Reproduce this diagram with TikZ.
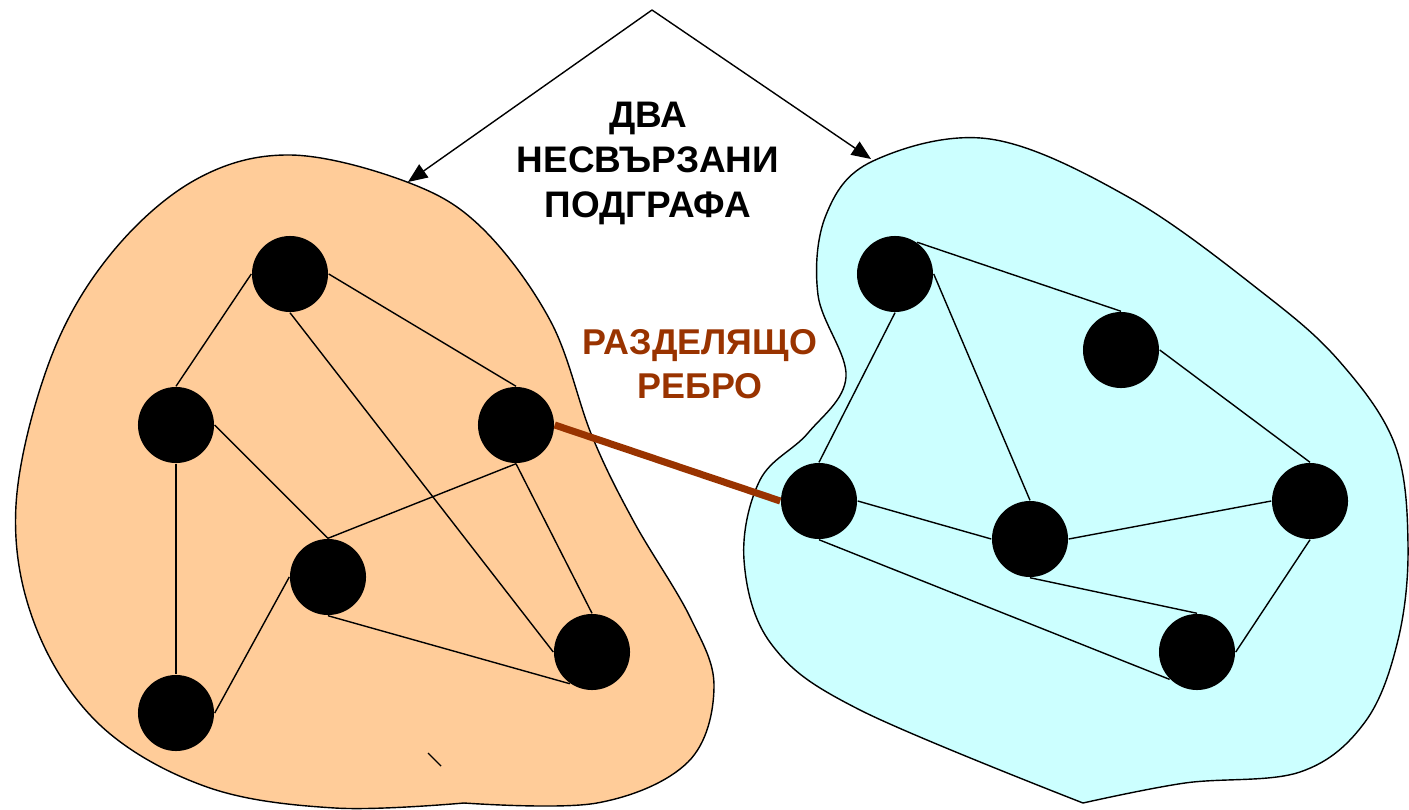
\documentclass[tikz,border=0pt]{standalone}
\usepackage{fontspec}
\setmainfont{Liberation Sans}
\usetikzlibrary{arrows.meta}
\definecolor{peach}{HTML}{FFCC99}
\definecolor{aqua}{HTML}{CCFFFF}
\definecolor{rust}{HTML}{993300}
\tikzset{
	vertex/.style={circle, fill=black, minimum size=7.6mm, inner sep=0pt},
	link/.style={line width=0.4pt},
	bridge/.style={line width=2pt, draw=rust},
	blob/.style={draw, line width=0.4pt},
	pointer/.style={-{Triangle[length=5.5pt, width=4.5pt]}, line width=0.4pt},
	caption/.style={font=\bfseries\fontsize{10.5}{12.8}\selectfont, align=center, inner sep=0pt}
}

\begin{document}
\begin{tikzpicture}[x=0.01cm, y=-0.01cm]
	\useasboundingbox (0,0) rectangle (1409,809);

	% the two subgraph regions
	\draw[blob, fill=peach] plot[smooth, tension=0.6] coordinates {(464,803) (597,803) (688,762) (714,687) (690,617) (634,522) (592,436) (551,322) (482,228) (407,182) (290,155) (195,180) (110,255) (50,360) (16,505) (35,625) (100,725) (207,787) (335,808) (464,803)} -- cycle;
	\draw[blob, fill=aqua] plot[smooth, tension=0.6] coordinates {(1083,803) (1185,783) (1300,772) (1365,722) (1398,640) (1408,545) (1395,445) (1340,362) (1263,293) (1130,198) (990,139) (873,161) (826,215) (818,295) (846,377) (808,433) (760,480) (744,560) (772,645) (860,710) (1083,803)} -- cycle;
	\draw[link] (428,753) -- (441,766);

	% left subgraph
	\node[vertex] (a) at (290,274) {};
	\node[vertex] (b) at (176,425) {};
	\node[vertex] (c) at (516,425) {};
	\node[vertex] (d) at (328,577) {};
	\node[vertex] (e) at (592,652) {};
	\node[vertex] (f) at (176,713) {};
	\draw[link] (a.west) -- (b.north);
	\draw[link] (a.east) -- (c.north);
	\draw[link] (a.south) -- (e.west);
	\draw[link] (b.east) -- (d.north);
	\draw[link] (b.south) -- (f.north);
	\draw[link] (c.south) -- (d.north);
	\draw[link] (c.south) -- (e.north);
	\draw[link] (d.west) -- (f.east);
	\draw[link] (d.south) -- (e.235);

	% right subgraph
	\node[vertex] (g) at (819,501) {};
	\node[vertex] (h) at (895,274) {};
	\node[vertex] (i) at (1121,350) {};
	\node[vertex] (j) at (1030,539) {};
	\node[vertex] (k) at (1310,501) {};
	\node[vertex] (l) at (1197,652) {};
	\draw[link] (h.55) -- (i.north);
	\draw[link] (h.south) -- (g.north);
	\draw[link] (h.east) -- (j.north);
	\draw[link] (i.east) -- (k.north);
	\draw[link] (g.east) -- (j.west);
	\draw[link] (j.east) -- (k.west);
	\draw[link] (g.south) -- (l.south west);
	\draw[link] (j.south) -- (l.north);
	\draw[link] (k.south) -- (l.east);

	\draw[bridge] (c.east) -- (g.west);

	% labels
	\node[caption] (title) at (648,163) {ДВА\\НЕСВЪРЗАНИ\\ПОДГРАФА};
	\begin{scope}
		\clip (560,300) rectangle (818,420);
		\node[caption, text=rust, font=\bfseries\fontsize{10.2}{12.5}\selectfont] (cut) at (700,364) {РАЗДЕЛЯЩО\\РЕБРО};
	\end{scope}

	\coordinate (apex) at (652,10);
	\coordinate (tipl) at (408,182);
	\coordinate (tipr) at (871,159);
	\draw[pointer] (apex) -- (tipl);
	\draw[pointer] (apex) -- (tipr);
\end{tikzpicture}
\end{document}
